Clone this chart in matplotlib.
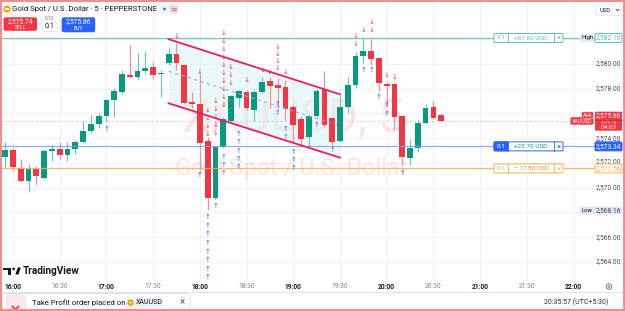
import matplotlib
matplotlib.use("Agg")
import matplotlib.pyplot as plt
from matplotlib.patches import Rectangle, FancyBboxPatch, Circle, Polygon

plt.rcParams['font.family'] = ['Roboto', 'DejaVu Sans']

# 5 minute candles, time in minutes after 16:00
bar_minutes = list(range(-5, 280, 5))
opens = [2572.46, 2573.01, 2571.62, 2570.57, 2571.52, 2570.76, 2573.00, 2573.13, 2572.65, 2573.11,
         2573.72, 2574.61, 2575.15, 2575.82, 2577.09, 2577.71, 2579.11, 2578.97, 2579.46, 2579.78,
         2579.17, 2580.06, 2580.81, 2579.92, 2576.95, 2576.77, 2573.80, 2569.15, 2573.29, 2575.42,
         2577.28, 2577.76, 2576.28, 2577.71, 2578.63, 2578.30, 2578.17, 2576.50, 2575.53, 2574.08,
         2575.80, 2577.95, 2575.61, 2573.80, 2576.50, 2578.30, 2580.65, 2581.07, 2580.46, 2578.38,
         2578.38, 2575.80, 2572.38, 2573.24, 2575.26, 2576.55, 2575.88]
highs = [2573.72, 2573.19, 2572.32, 2571.90, 2571.76, 2573.10, 2573.45, 2573.72, 2573.72, 2573.86,
         2575.39, 2575.88, 2576.06, 2577.15, 2578.04, 2579.52, 2581.54, 2580.86, 2581.07, 2580.19,
         2579.52, 2581.27, 2581.67, 2580.00, 2577.76, 2579.20, 2574.10, 2573.40, 2575.72, 2577.50,
         2577.90, 2577.90, 2577.90, 2578.97, 2578.97, 2578.90, 2578.70, 2576.70, 2575.80, 2575.88,
         2577.95, 2579.46, 2575.70, 2577.50, 2578.95, 2580.99, 2582.10, 2582.00, 2580.59, 2578.57,
         2578.57, 2575.88, 2573.92, 2575.47, 2576.77, 2577.03, 2576.06]
lows = [2571.57, 2571.35, 2570.49, 2569.68, 2570.22, 2570.70, 2572.19, 2572.30, 2572.19, 2572.70,
        2573.59, 2574.45, 2574.85, 2575.34, 2575.74, 2577.58, 2578.87, 2578.71, 2579.25, 2578.76,
        2577.36, 2579.92, 2579.52, 2576.80, 2576.42, 2571.45, 2568.16, 2569.10, 2573.20, 2575.31,
        2576.55, 2576.28, 2575.42, 2577.63, 2576.42, 2576.40, 2575.47, 2573.64, 2573.32, 2573.27,
        2575.69, 2574.94, 2573.45, 2573.72, 2576.04, 2578.04, 2580.06, 2579.92, 2577.84, 2576.55,
        2574.67, 2571.84, 2571.84, 2572.91, 2575.15, 2575.53, 2575.42]
closes = [2573.01, 2571.65, 2570.57, 2571.49, 2570.97, 2573.00, 2573.11, 2572.65, 2573.11, 2573.72,
          2574.61, 2575.13, 2575.80, 2577.09, 2577.84, 2579.19, 2578.92, 2579.46, 2579.65, 2579.11,
          2579.25, 2580.78, 2580.06, 2576.87, 2576.77, 2573.59, 2569.15, 2573.32, 2575.52, 2577.41,
          2577.82, 2576.42, 2577.71, 2578.57, 2578.22, 2578.04, 2576.34, 2575.07, 2573.92, 2575.80,
          2577.82, 2575.07, 2573.72, 2576.50, 2578.30, 2580.65, 2581.07, 2580.38, 2578.44, 2578.22,
          2575.69, 2572.46, 2573.24, 2575.21, 2576.47, 2575.61, 2575.42]

# trade execution markers: (minute, prices)
sell_marks = [(105, [2582.26]), (120, [2579.35]),
              (125, [2576.28, 2575.64, 2574.99, 2574.34]),
              (130, [2577.01, 2576.36, 2575.72, 2575.07, 2574.42]),
              (135, [2582.51, 2581.86, 2581.21, 2580.57, 2579.92, 2579.27, 2578.63, 2577.98, 2577.33, 2576.69]),
              (140, [2579.76, 2579.11, 2578.46]), (150, [2578.71]), (160, [2579.52]), (165, [2579.35]),
              (170, [2581.37, 2580.81, 2580.24, 2579.68]), (175, [2579.35]),
              (220, [2582.26, 2581.62]), (225, [2582.75]), (230, [2583.39, 2582.75]),
              (240, [2579.11]), (245, [2578.95])]
buy_marks = [(60, [2574.75]), (120, [2571.03]),
             (125, [2567.64, 2566.91, 2566.26, 2565.54, 2564.81, 2564.16, 2563.43, 2562.79]),
             (130, [2568.53]), (135, [2572.48, 2571.84, 2571.19]),
             (145, [2574.34, 2573.70, 2572.97, 2572.32, 2571.68]),
             (170, [2576.77, 2576.04]), (175, [2574.75, 2574.10]),
             (180, [2572.89, 2572.24, 2571.60]), (195, [2575.07]), (205, [2573.05]),
             (225, [2579.52]), (230, [2579.52]), (235, [2577.33]), (240, [2576.69, 2575.96]),
             (250, [2571.19])]

# parallel channel
channel_minutes = [100, 210]
channel_upper = [2582.00, 2577.55]
channel_lower = [2576.82, 2572.43]

# positions / prices
order_prices = [2582.10, 2573.34, 2571.56]
order_pnl = ['+87.60 USD', '+23.70 USD', '\u2212 17.80 USD']
order_qty = '0.1'
bid, ask = 2575.74, 2575.86
last_price = 2575.42
range_high, range_low = 2582.10, 2568.16
price_ticks = [2564, 2566, 2568, 2570, 2572, 2574, 2576, 2578, 2580, 2582]
shown_price_labels = [2564, 2566, 2570, 2572, 2574, 2578, 2580]
time_ticks = list(range(0, 361, 30))
time_labels = ['16:00', '16:30', '17:00', '17:30', '18:00', '18:30', '19:00',
               '19:30', '20:00', '20:30', '21:00', '21:30', '22:00']

GREEN = '#089981'
RED = '#f23645'
BLUE = '#2962ff'
TEAL = '#5fbfae'
ORANGE = '#ffb04a'
TXT = '#131722'

W, H = 625, 311
fig = plt.figure(figsize=(W / 100, H / 100), dpi=100)
fig.patch.set_facecolor('white')
ax = fig.add_axes([0, 30 / H, 595 / W, 281 / H])
ov = fig.add_axes([0, 0, 1, 1], zorder=10)
ov.set_xlim(0, W)
ov.set_ylim(H, 0)
ov.axis('off')
ov.patch.set_alpha(0)
ax.set_xlim(-8.35, 373.8)
ax.set_ylim(2562.46, 2585.17)
ax.axis('off')


def to_px(t, p):
    x, y = ax.transData.transform((t, p))
    return x, H - y


def py(p):
    return to_px(0, p)[1]


# grid
for t in time_ticks:
    ax.axvline(t, color='#f0f2f6', lw=0.8, zorder=0)
for p in price_ticks:
    ax.axhline(p, color='#f0f2f6', lw=0.8, zorder=0)

# watermark
ax.text(293, 118, 'XAUUSD, 5', transform=ov.transData, fontsize=33, color=RED, alpha=0.13,
        ha='center', va='center', zorder=1, clip_on=False)
ax.text(291, 168, 'Gold Spot / U.S. Dollar', transform=ov.transData, fontsize=17, color=RED,
        alpha=0.13, ha='center', va='center', zorder=1, clip_on=False)

# channel
ax.fill_between(channel_minutes, channel_lower, channel_upper, color='#d9f3f3', alpha=0.55,
                lw=0, zorder=1.5)
mid = [(a + b) / 2 for a, b in zip(channel_upper, channel_lower)]
ax.plot(channel_minutes, mid, color='#a5a8e6', lw=0.8, ls=(0, (3, 3)), zorder=3.6)
ax.plot(channel_minutes, channel_upper, color='#e91e63', lw=1.3, zorder=4)
ax.plot(channel_minutes, channel_lower, color='#e91e63', lw=1.3, zorder=4)

# order lines
for p, c in zip(order_prices, [TEAL, '#7f9cff', ORANGE]):
    ax.axhline(p, color=c, lw=0.9, alpha=0.85, zorder=3.5)
ax.axhline(last_price, color='#f6c3c8', lw=0.8, ls=(0, (2, 2)), zorder=2)

# candles
for t, o, h, l, c in zip(bar_minutes, opens, highs, lows, closes):
    up = c >= o
    col = GREEN if up else RED
    wick = '#72c6b6' if up else '#f58f99'
    ax.vlines(t, l, h, color=wick, lw=0.9, zorder=3)
    ax.add_patch(Rectangle((t - 1.85, min(o, c)), 3.7, max(abs(c - o), 0.07),
                           fc=col, ec='none', zorder=3.2))

# execution arrows
for t, ps in sell_marks:
    for p in ps:
        ax.text(t, p, '\u2193', color=RED, fontsize=5, ha='center', va='center',
                family='DejaVu Sans', zorder=6)
for t, ps in buy_marks:
    for p in ps:
        ax.text(t, p, '\u2191', color=BLUE, fontsize=5, ha='center', va='center',
                family='DejaVu Sans', zorder=6)


def box(x, y, w, h, fc, ec='none', lw=0.7, r=1.2, z=1):
    ov.add_patch(FancyBboxPatch((x, y), w, h, boxstyle=f'round,pad=0,rounding_size={r}',
                                fc=fc, ec=ec, lw=lw, zorder=z))


def label(x, y, s, size=5, color=TXT, ha='center', weight='normal', z=5):
    ov.text(x, y, s, fontsize=size, color=color, ha=ha, va='center', weight=weight, zorder=z)


# price scale labels
for p in shown_price_labels:
    label(608.5, py(p) - (1.5 if p == 2572 else 0), f'{p:,.2f}', size=4.8, color='#4a4e5a')

# order tags in chart + on scale
styles = [(TEAL, TEAL, False), (BLUE, GREEN, True), (ORANGE, '#e0902a', False)]
for p, pnl, (c, pc, filled) in zip(order_prices, order_pnl, styles):
    y = py(p)
    box(494, y - 4.5, 69, 9, 'white', c, z=2)
    if filled:
        box(494, y - 4.5, 14, 9, c, c, z=2.5)
    ov.plot([508, 508], [y - 4.5, y + 4.5], color=c, lw=0.6, zorder=3)
    ov.plot([554, 554], [y - 4.5, y + 4.5], color=c, lw=0.6, zorder=3)
    label(501, y, order_qty, size=4.6, color='white' if filled else c)
    label(531, y, pnl, size=4.6, color=pc)
    label(558.5, y, '\u00d7', size=5.5, color=c)
    if filled:
        box(595, y - 4.5, 27, 9, c, c, z=6)
        label(608.5, y, f'{p:,.2f}', size=4.8, color='white', z=7)
    else:
        box(595, y - 4.5, 27, 9, 'white', c, z=6)
        label(608.5, y, f'{p:,.2f}', size=4.8, color=c, z=7)

# high / low
yh = py(range_high)
box(580, yh - 3.8, 14, 7.6, '#e1e6f3', z=6)
label(587, yh, 'High', size=4.2, z=7)
yl = py(range_low)
box(580, yl - 3.8, 42, 7.6, '#e1e6f3', z=6)
label(587, yl, 'Low', size=4.2, z=7)
label(608.5, yl, f'{range_low:,.2f}', size=4.8, color='#4a4e5a', z=7)

# bid / ask tags
ya = py(ask)
box(595, ya - 3.5, 27, 19, RED, z=6)
label(608.5, ya, f'{ask:,.2f}', size=4.8, color='white', z=7)
label(608.5, ya + 12, '04:03', size=4.6, color='white', z=7)
ov.plot([595, 622], [ya + 5, ya + 5], color='#c5283b', lw=0.5, zorder=6.5)
label(608.5, ya + 6.4, f'{bid:,.2f}', size=3.0, color='#ffd5d9', z=7)
box(570.5, ya + 2, 23, 7.5, RED, z=5.5)
label(582, ya + 6.2, 'XAUUSD', size=3.8, color='white', z=7)
box(581.5, ya - 3.3, 12, 6.6, RED, ec='white', lw=0.3, z=6)
label(587.5, ya, 'Ask', size=4.2, color='white', z=7)

# time axis
for t, s in zip(time_ticks, time_labels):
    x = to_px(t, 0)[0]
    hour = s.endswith(':00')
    label(x, 286.7, s, size=4.8, color=TXT if hour else '#80838e',
          weight='bold' if hour else 'normal')
ov.add_patch(Circle((609, 286.5), 2.8, fc='none', ec='#6a6d78', lw=0.6, zorder=5))
ov.add_patch(Circle((609, 286.5), 1.0, fc='none', ec='#6a6d78', lw=0.5, zorder=5))

# TradingView logo
ov.add_patch(Polygon([(3, 267.5), (11, 267.5), (11, 274.5), (8, 274.5), (8, 270.3), (3, 270.3)],
                     closed=True, fc=TXT, ec='none', zorder=5))
ov.add_patch(Circle((13.6, 268.9), 1.3, fc=TXT, zorder=5))
ov.add_patch(Polygon([(15.3, 274.5), (17.8, 267.5), (20.8, 267.5), (18.5, 274.5)],
                     closed=True, fc=TXT, ec='none', zorder=5))
label(23, 271, 'TradingView', size=7.2, ha='left', weight='bold')

# header
ov.add_patch(Circle((7, 9), 3.6, fc='#f7a600', zorder=5))
ov.add_patch(Rectangle((5.3, 8.2), 3.4, 1.6, fc='white', zorder=6))
label(12.5, 9, 'Gold Spot / U.S. Dollar \u00b7 5 \u00b7 PEPPERSTONE', size=5.6, ha='left')
box(160, 4.5, 18, 9, '#f0f3fa', r=2, z=4)
ov.add_patch(Circle((164.5, 9), 1.4, fc=GREEN, zorder=5))
box(169.5, 5, 8, 8, '#fbd5da', r=1.5, z=5)
ov.plot([171.5, 175.5], [8, 8], color=RED, lw=0.5, zorder=6)
ov.plot([171.5, 175.5], [10, 10], color=RED, lw=0.5, zorder=6)

box(3.5, 17.3, 33.5, 13.5, RED, r=2, z=4)
label(20.2, 21.8, '2,575.74', size=4.8, color='white')
label(20.2, 27.5, 'SELL', size=3.7, color='white')
label(49, 19.0, '0.12', size=3.4, color='#6a6d78')
box(41.5, 22.5, 16, 9, 'white', '#e0e3eb', lw=0.5, r=1.5, z=4)
label(49.5, 27, order_qty, size=5.2)
box(61.7, 17.3, 33.5, 15, BLUE, r=2, z=4)
label(78.5, 22, '2,575.86', size=4.8, color='white')
label(78.5, 28, 'BUY', size=3.7, color='white')

box(596.5, 5, 25.5, 10.5, 'white', '#e0e3eb', lw=0.5, r=1.5, z=4)
label(599.5, 10.2, 'USD', size=4.2, ha='left')
ov.plot([616, 617.5, 619], [9.3, 10.8, 9.3], color=TXT, lw=0.5, zorder=5)

# bottom bar
ov.plot([0, W], [291.8, 291.8], color='#e0e3eb', lw=0.7, zorder=3)
box(2, 293.5, 188, 20, 'white', '#d6d9e0', lw=0.6, r=3, z=4)
box(6, 294.5, 20, 18, '#fde7ea', r=2, z=5)
ov.plot([12.5, 15.5, 18.5], [306.5, 309.5, 306.5], color=RED, lw=1.2, zorder=6)
label(32, 302.7, 'Take Profit order placed on', size=5.6, ha='left')
box(125.5, 297.5, 38, 10.5, '#eef0f5', r=5, z=5)
ov.add_patch(Circle((130.5, 302.7), 3.2, fc='#f7a600', zorder=6))
ov.add_patch(Rectangle((129, 302), 3, 1.4, fc='white', zorder=7))
label(135.5, 302.7, 'XAUUSD', size=5, ha='left', z=7)
label(182.5, 302.3, '\u00d7', size=7, color='#50535e')
label(608, 302.7, '20:35:57 (UTC+5:30)', size=5, ha='right', color='#2a2e39')

# red frame around the screenshot
ov.plot([0.7, 0.7], [0, H], color='#f08a8a', lw=1.4, zorder=20)
ov.plot([623.5, 623.5], [0, H], color='#f08a8a', lw=2.0, zorder=20)
ov.plot([0, W], [0.7, 0.7], color='#f08a8a', lw=1.4, zorder=20)
ov.plot([0, W], [310.3, 310.3], color='#f08a8a', lw=1.4, zorder=20)

fig.savefig('out.png', dpi=100)
